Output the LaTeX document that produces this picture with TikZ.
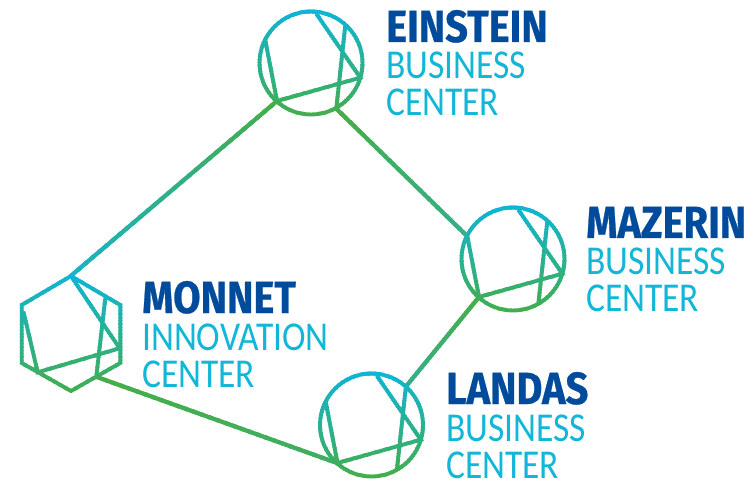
\documentclass[tikz,border=0pt]{standalone}
\usepackage{fontspec}
\usetikzlibrary{calc}
\newfontfamily\headfont[FakeStretch=0.885,FakeBold=0.6]{Fira Sans}
\newfontfamily\subfont[FakeStretch=0.865]{Carlito}
\definecolor{topc}{HTML}{0DB5DA}
\definecolor{botc}{HTML}{46AD45}
\definecolor{navy}{HTML}{004B9B}
\definecolor{subc}{HTML}{12B6D6}
\tikzset{
  iconline/.style={line width=3.9pt,line join=miter},
  linkline/.style={line width=4.3pt,line cap=butt},
  headtext/.style={anchor=base west,inner sep=0pt,text=navy,font=\headfont\bfseries\fontsize{45}{45}\selectfont},
  subtext/.style={anchor=base west,inner sep=0pt,text=subc,font=\subfont\fontsize{41}{41}\selectfont}
}
\newcommand{\inner}{(-45.7,-22.7) -- (-34,38) -- (49.3,14.7) -- (5.3,-49.3) (34.3,-37.7) -- (25.3,45.7)}
\newcommand{\gradicon}[4]{%
  \foreach \i in {0,...,39}{%
    \pgfmathsetmacro\p{100-\i*100/39}%
    \begin{scope}
      \clip (#1-65,#2+#3+\i*#4) rectangle (#1+65,#2+#3+\i*#4+#4+0.4);
      \begin{scope}[shift={(#1,#2)}]
        \draw[iconline,draw=topc!\p!botc] \shapepath;
      \end{scope}
    \end{scope}
  }%
}
\newcommand{\gradlink}[4]{%
  \foreach \i in {0,...,29}{%
    \pgfmathsetmacro\p{100-\i*100/29}%
    \pgfmathsetmacro\ta{\i/30}%
    \pgfmathsetmacro\tb{min(1,(\i+1.4)/30)}%
    \draw[linkline,draw=#3!\p!#4] ($(#1)!\ta!(#2)$) -- ($(#1)!\tb!(#2)$);
  }%
}
\definecolor{la}{HTML}{1AB2C4}
\definecolor{lb}{HTML}{46AD48}
\definecolor{lc}{HTML}{35AF8C}
\definecolor{ld}{HTML}{3FAE62}
\begin{document}
\begin{tikzpicture}[x=1pt,y=-1pt]
\useasboundingbox (0,0) rectangle (753,481);
\coordinate (einsteinB) at (277,101);
\coordinate (einsteinF) at (336.3,108.7);
\coordinate (mazerinA) at (467.3,236.3);
\coordinate (mazerinB) at (479,297);
\coordinate (landasE) at (405.3,387.3);
\coordinate (landasB) at (337,463);
\coordinate (monnetT) at (70.7,276);
\coordinate (monnetF) at (96,376.7);
\gradlink{monnetT}{einsteinB}{la}{lb}
\gradlink{einsteinF}{mazerinA}{lb}{lc}
\gradlink{mazerinB}{landasE}{lb}{lc}
\gradlink{monnetF}{landasB}{lb}{ld}
\def\shapepath{(0,0) circle[radius=51.5] \inner}
\gradicon{311}{63}{-56}{2.9}
\gradicon{513}{259}{-56}{2.9}
\gradicon{371.5}{425}{-56}{2.9}
\def\shapepath{(0,-59) -- (49.3,-30) -- (49.3,28) -- (0,56) -- (-49.3,28) -- (-49.3,-30) -- cycle (-47.6,-23.5) -- (-33.3,37.3) -- (48.6,13.3) -- (0,-59) (34.3,-36.7) -- (25.3,41.7)}
\gradicon{71}{335}{-64}{3.3}
\node[headtext] (einstein) at (386,42) {EINSTEIN};
\node[subtext] (einsteinb) at (386,79) {BUSINESS};
\node[subtext] (einsteinc) at (386,116) {CENTER};
\node[headtext] (mazerin) at (586,238) {MAZERIN};
\node[subtext] (mazerinb) at (586,275) {BUSINESS};
\node[subtext] (mazerinc) at (586,312) {CENTER};
\node[headtext] (landas) at (446,404) {LANDAS};
\node[subtext] (landasb) at (446,441) {BUSINESS};
\node[subtext] (landasc) at (446,478) {CENTER};
\node[headtext] (monnet) at (142,313) {MONNET};
\node[subtext] (monneti) at (142,350) {INNOVATION};
\node[subtext] (monnetc) at (142,388) {CENTER};
\end{tikzpicture}
\end{document}
